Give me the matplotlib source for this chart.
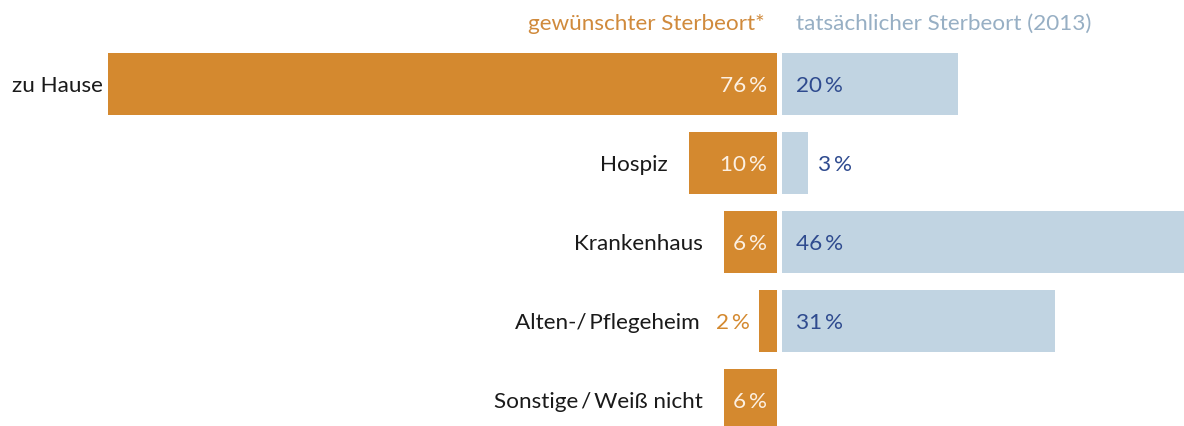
import numpy as np
import matplotlib.pyplot as plt

plt.rcParams['font.family'] = ['Lato', 'DejaVu Sans']

# data
categories = ["zu Hause", "Hospiz", "Krankenhaus", "Alten-/\u2009Pflegeheim", "Sonstige\u2009/\u2009Weiß nicht"]
desired = [76, 10, 6, 2, 6]
actual = [20, 3, 46, 31, np.nan]
header_left = "gewünschter Sterbeort*"
header_right = "tatsächlicher Sterbeort (2013)"

orange = "#D4892F"
light_blue = "#C1D4E2"
dark_blue = "#2F4B8F"
header_blue = "#97AFC4"
inside_light = "#FCF0E2"

W, H = 1184, 426
fig = plt.figure(figsize=(W / 100, H / 100), dpi=100)
ax = fig.add_axes([0, 0, 1, 1])

px = 8.8           # pixels per percent
center = 779.5     # pixel column of the axis
gap = 2.5 / px     # half gap between the two sides
row0, row_step = 84, 79

ax.set_xlim(-center / px, (W - center) / px)
ax.set_ylim((H - row0) / row_step, -row0 / row_step)
ax.axis("off")

y = np.arange(len(categories))
bar_h = 62 / row_step
ax.barh(y, [-v for v in desired], left=-gap, height=bar_h, color=orange)
ax.barh(y, actual, left=gap, height=bar_h, color=light_blue)

fs = 16.2
va = "center_baseline"
labels = []
for i, (cat, d, a) in enumerate(zip(categories, desired, actual)):
    left_edge = -gap - d
    if d >= 5:
        ax.annotate(f"{d}\u2009%", (-gap, i), xytext=(-10, 0), textcoords="offset pixels",
                    ha="right", va=va, fontsize=fs, color=inside_light)
        lab_off = -21
    else:
        ax.annotate(f"{d}\u2009%", (left_edge, i), xytext=(-10, 0), textcoords="offset pixels",
                    ha="right", va=va, fontsize=fs, color=orange)
        lab_off = -60
    t = ax.annotate(cat, (left_edge, i), xytext=(lab_off, 0), textcoords="offset pixels",
                    ha="right", va=va, fontsize=fs, color="#1a1a1a")
    labels.append(t)

    if not np.isnan(a):
        if a >= 5:
            ax.annotate(f"{a:.0f}\u2009%", (gap, i), xytext=(14, 0), textcoords="offset pixels",
                        ha="left", va=va, fontsize=fs, color=dark_blue)
        else:
            ax.annotate(f"{a:.0f}\u2009%", (gap + a, i), xytext=(10, 0), textcoords="offset pixels",
                        ha="left", va=va, fontsize=fs, color=dark_blue)

# headers
ax.annotate(header_left, (-gap, 0), xycoords=("data", "figure fraction"),
            xytext=(-12, H - 22), textcoords="offset pixels",
            ha="right", va=va, fontsize=fs, color="#D08A3C")
ax.annotate(header_right, (gap, 0), xycoords=("data", "figure fraction"),
            xytext=(14, H - 22), textcoords="offset pixels",
            ha="left", va=va, fontsize=fs, color=header_blue)

# keep labels inside the figure
fig.canvas.draw()
r = fig.canvas.get_renderer()
for t in labels:
    bb = t.get_window_extent(r)
    if bb.x0 < 12:
        t.set_ha("left")
        t.xy = (0, t.xy[1])
        t.xycoords = ("figure pixels", "data")
        t.set_position((12, 0))

fig.savefig("out.png", dpi=100, facecolor="white")
